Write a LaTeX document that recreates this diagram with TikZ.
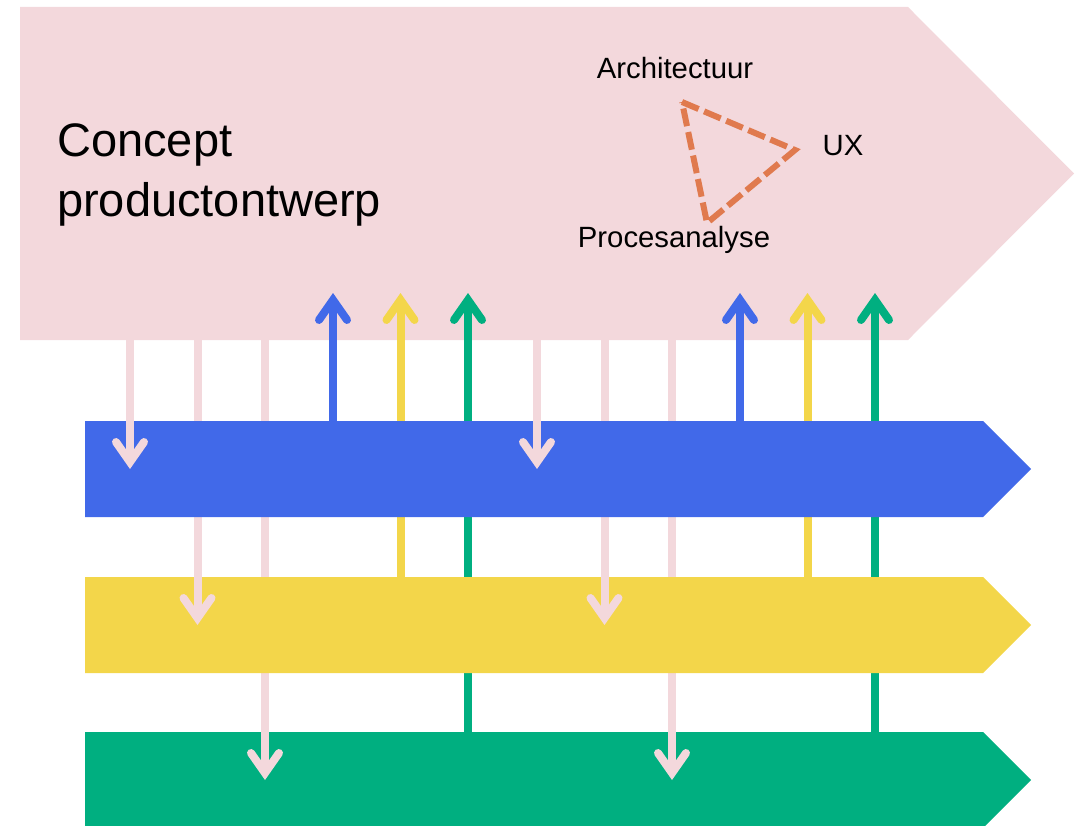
\documentclass[tikz,border=0pt]{standalone}
\usepackage{fontspec}
\setmainfont{Liberation Sans}
\usetikzlibrary{arrows.meta}

\definecolor{conceptpink}{RGB}{243,216,220}
\definecolor{designblue}{RGB}{65,105,233}
\definecolor{designyellow}{RGB}{243,214,74}
\definecolor{designgreen}{RGB}{0,175,128}
\definecolor{triorange}{RGB}{224,122,78}

\begin{document}
\begin{tikzpicture}[x=1pt, y=-1pt,
    flow/.style={line width=8pt, -{Straight Barb[line cap=round, line join=miter, length=20pt, width=28pt]}},
    downflow/.style={flow, draw=conceptpink},
    bigtext/.style={font=\fontsize{47}{60}\selectfont, align=left, inner sep=0pt},
    smalltext/.style={font=\fontsize{29.3}{33}\selectfont, inner sep=0pt},
    dashline/.style={draw=triorange, line width=6pt, dash pattern=on 18pt off 6pt}]
    \useasboundingbox (0,0) rectangle (1081,826);

    % Concept phase (pink arrow shape)
    \fill[conceptpink] (20,7) -- (908,7) -- (1074,173.5) -- (908,340) -- (20,340) -- cycle;
    \node[bigtext, anchor=north west] (concept) at (57,123) {Concept\\productontwerp};

    % Triangle of disciplines
    \node[smalltext, anchor=base] (arch) at (675,79) {Architectuur};
    \node[smalltext, anchor=base] (ux) at (843,156) {UX};
    \node[smalltext, anchor=base] (proces) at (674,248) {Procesanalyse};
    \coordinate (tA) at (682,102);
    \coordinate (tU) at (795,150);
    \coordinate (tP) at (707,223);
    \draw[dashline] (tA) -- (tU) -- (tP) -- cycle;

    % Columns and levels for the connectors
    \foreach \x [count=\i] in {130,197.5,265,333,400.5,468,537,604.5,672,740,807.5,875}
        \coordinate (col\i) at (\x,0);
    \coordinate (pinkbottom) at (0,340);
    \coordinate (arrowtop) at (0,293);
    \coordinate (bluetop) at (0,421);
    \coordinate (bluemid) at (0,469);
    \coordinate (yellowtop) at (0,577);
    \coordinate (yellowmid) at (0,625);
    \coordinate (greentop) at (0,732);
    \coordinate (greenmid) at (0,780);

    % Green band
    \fill[designgreen] (85,732) -- (983,732) -- (1031,780) -- (983,828) -- (85,828) -- cycle;
    \foreach \i in {3,9}
        \draw[downflow] (col\i |- pinkbottom) -- (col\i |- greenmid);
    \foreach \i in {6,12}
        \draw[flow, designgreen] (col\i |- greentop) -- (col\i |- arrowtop);

    % Yellow band
    \fill[designyellow] (85,577) -- (983,577) -- (1031,625) -- (983,673) -- (85,673) -- cycle;
    \foreach \i in {2,8}
        \draw[downflow] (col\i |- pinkbottom) -- (col\i |- yellowmid);
    \foreach \i in {5,11}
        \draw[flow, designyellow] (col\i |- yellowtop) -- (col\i |- arrowtop);

    % Blue band
    \fill[designblue] (85,421) -- (983,421) -- (1031,469) -- (983,517) -- (85,517) -- cycle;
    \foreach \i in {1,7}
        \draw[downflow] (col\i |- pinkbottom) -- (col\i |- bluemid);
    \foreach \i in {4,10}
        \draw[flow, designblue] (col\i |- bluetop) -- (col\i |- arrowtop);
\end{tikzpicture}
\end{document}
